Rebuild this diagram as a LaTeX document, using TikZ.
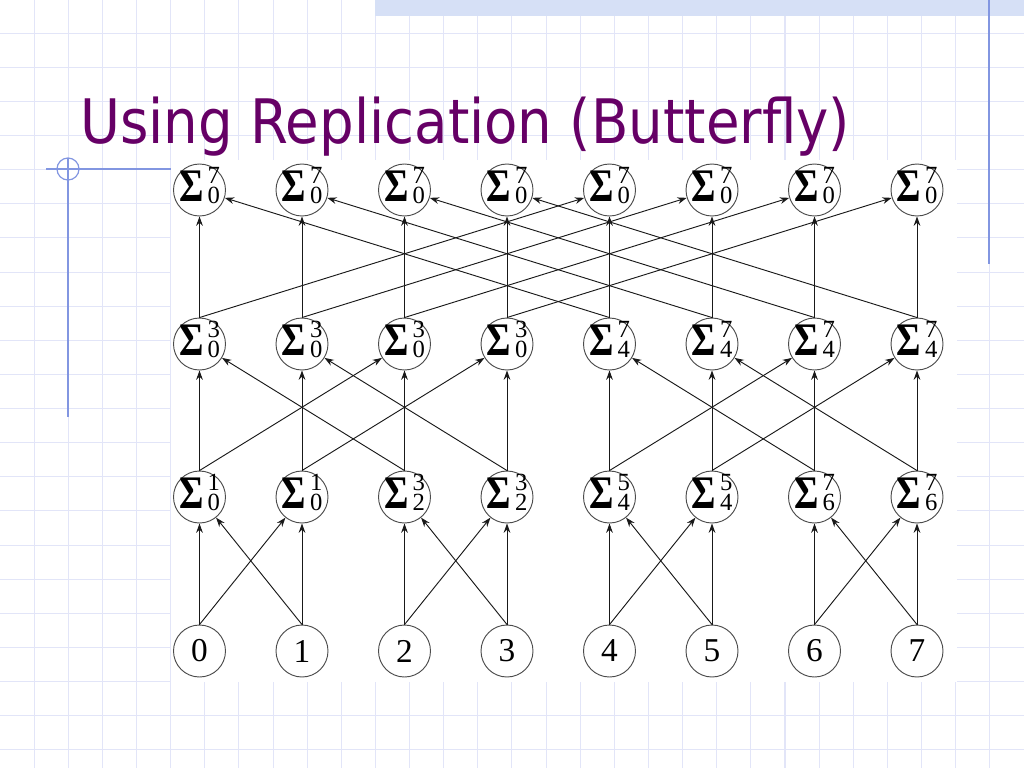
\documentclass[tikz,border=0pt]{standalone}
\usepackage{fontspec}
\usepackage{graphicx}
\usetikzlibrary{arrows.meta}
\newfontfamily\titlefont{DejaVu Sans}
\newfontfamily\leaffont{Liberation Serif}
\definecolor{gridc}{RGB}{226,229,248}
\definecolor{barc}{RGB}{214,224,246}
\definecolor{decoc}{RGB}{130,150,225}
\definecolor{titlec}{RGB}{102,0,102}
\definecolor{edgec}{RGB}{25,25,25}
\newcommand{\sigsum}[2]{\scalebox{2.8}[3.5]{\bfseries Σ}\hspace{3pt}\rlap{\raisebox{13.2pt}{\scalebox{1.85}{#2}}}\raisebox{-1.5pt}{\scalebox{1.85}{#1}}}
\tikzset{
  sumnode/.style={circle,draw=black!70,line width=0.7pt,minimum size=39pt,inner sep=0pt,font=\leaffont,text height=16.5pt,text depth=0pt},
  leafnode/.style={circle,draw=black!70,line width=0.7pt,minimum size=39pt,inner sep=0pt,font=\leaffont\fontsize{25}{25}\selectfont},
  edge/.style={draw=edgec,line width=0.7pt,-{Stealth[length=7pt,width=5pt]}},
}
\begin{document}
\begin{tikzpicture}[x=0.75pt,y=-0.75pt]
\useasboundingbox (0,0) rectangle (1024,768);
\fill[white] (0,0) rectangle (1024,768);
% grid
\foreach \k in {1,...,29} \draw[gridc,line width=0.8pt] ({34.13*\k},0) -- ({34.13*\k},768);
\foreach \k in {1,...,22} \draw[gridc,line width=0.8pt] (0,{34.13*\k-1}) -- (1024,{34.13*\k-1});
% top bar and decorations
\fill[barc] (375,0) rectangle (1024,16);
\draw[decoc,line width=0.9pt] (989,0) -- (989,264);
\draw[decoc,line width=0.9pt] (46,169) -- (172,169);
\draw[decoc,line width=0.9pt] (68,158) -- (68,417);
\draw[decoc,line width=0.9pt] (68,169) circle[radius=11];
% title
\node[anchor=base west,inner sep=0pt,text=titlec,font=\titlefont\fontsize{46}{46}\selectfont] (title) at (80,143) {\scalebox{0.89}[1]{Using Replication (Butterfly)}};
% white panel
\fill[white] (171,160) rectangle (957,682);
% nodes
\foreach \i/\x in {0/199.5,1/302,2/404.5,3/507,4/609.5,5/712,6/814.5,7/917} {
  \node[leafnode] (l\i) at (\x,651) {\i};
  \node[sumnode] (t\i) at (\x,190) {\sigsum{0}{7}};
}
\foreach \i/\x/\p/\q in {0/199.5/0/1,1/302/0/1,2/404.5/2/3,3/507/2/3,4/609.5/4/5,5/712/4/5,6/814.5/6/7,7/917/6/7}
  \node[sumnode] (a\i) at (\x,497) {\sigsum{\p}{\q}};
\foreach \i/\x/\p/\q in {0/199.5/0/3,1/302/0/3,2/404.5/0/3,3/507/0/3,4/609.5/4/7,5/712/4/7,6/814.5/4/7,7/917/4/7}
  \node[sumnode] (m\i) at (\x,344) {\sigsum{\p}{\q}};
% edges level 1
\foreach \i/\j in {0/1,1/0,2/3,3/2,4/5,5/4,6/7,7/6} {
  \draw[edge] (l\i.north) -- (a\i);
  \draw[edge] (l\i.north) -- (a\j);
}
% edges level 2
\foreach \i/\j in {0/2,1/3,2/0,3/1,4/6,5/7,6/4,7/5} {
  \draw[edge] (a\i.north) -- (m\i);
  \draw[edge] (a\i.north) -- (m\j);
}
% edges level 3
\foreach \i/\j in {0/4,1/5,2/6,3/7,4/0,5/1,6/2,7/3} {
  \draw[edge] (m\i.north) -- (t\i);
  \draw[edge] (m\i.north) -- (t\j);
}
\end{tikzpicture}
\end{document}
